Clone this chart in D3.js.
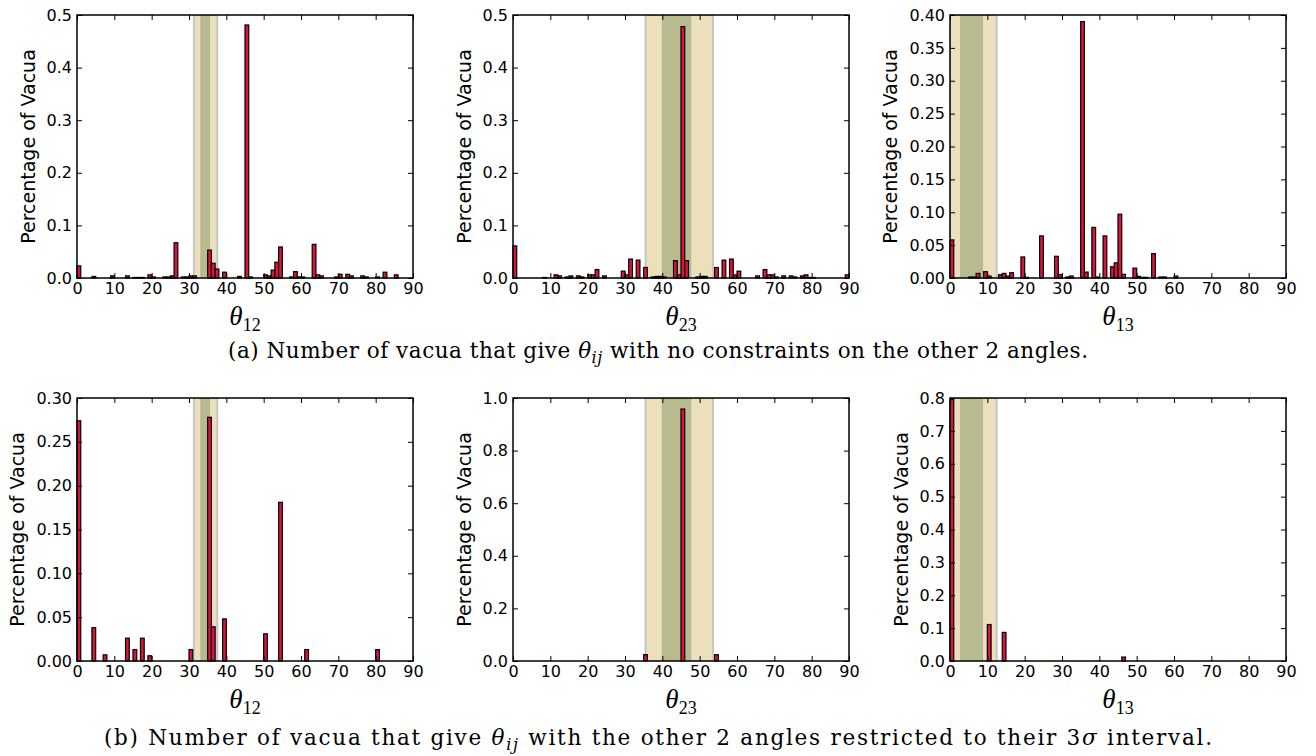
<!DOCTYPE html>
<html>
<head>
<meta charset="utf-8">
<script src="https://cdn.jsdelivr.net/npm/d3@7"></script>
<style>
  body { margin: 0; background: #fff; }
</style>
</head>
<body>
<svg id="chart" width="1316" height="756"></svg>
<script>
// x axis (angle, degrees) ticks shared by all six panels
const xTicks = [0, 10, 20, 30, 40, 50, 60, 70, 80, 90]

// (a) no constraints on the other two angles
const thetaA12 = [0, 4, 9, 13, 15, 16, 17, 19, 20, 23, 24, 25, 26, 28, 29, 30, 31, 35, 36, 37, 39, 43, 45, 46, 50, 51, 52, 53, 54, 57, 58, 59, 60, 63, 64, 65, 69, 70, 72, 73, 76, 77, 80, 82, 85]
const fracA12 = [0.023, 0.003, 0.004, 0.004, 0.001, 0.001, 0.001, 0.006, 0.002, 0.002, 0.002, 0.004, 0.067, 0.002, 0.002, 0.004, 0.004, 0.053, 0.028, 0.017, 0.011, 0.003, 0.481, 0.002, 0.006, 0.004, 0.015, 0.030, 0.059, 0.002, 0.012, 0.002, 0.002, 0.064, 0.006, 0.004, 0.002, 0.007, 0.007, 0.004, 0.004, 0.002, 0.002, 0.011, 0.006]
const yTicksA12 = [0, 0.1, 0.2, 0.3, 0.4, 0.5]

const thetaA23 = [0, 8, 11, 12, 14, 15, 17, 18, 20, 21, 22, 24, 29, 30, 31, 33, 35, 37, 38, 39, 40, 43, 44, 45, 46, 49, 50, 51, 54, 56, 58, 59, 60, 65, 67, 68, 69, 70, 72, 74, 75, 77, 78, 79, 80, 89]
const fracA23 = [0.061, 0.001, 0.006, 0.004, 0.002, 0.004, 0.004, 0.002, 0.006, 0.006, 0.016, 0.004, 0.013, 0.006, 0.036, 0.034, 0.020, 0.002, 0.003, 0.003, 0.002, 0.033, 0.006, 0.478, 0.033, 0.002, 0.003, 0.003, 0.020, 0.034, 0.036, 0.006, 0.013, 0.004, 0.016, 0.006, 0.006, 0.002, 0.004, 0.004, 0.002, 0.004, 0.006, 0.001, 0.001, 0.006]
const yTicksA23 = [0, 0.1, 0.2, 0.3, 0.4, 0.5]

const thetaA13 = [0, 5, 6, 7, 9, 10, 13, 14, 15, 16, 19, 20, 24, 28, 29, 31, 32, 35, 36, 38, 39, 41, 43, 44, 45, 46, 49, 50, 51, 52, 54, 56, 57, 60]
const fracA13 = [0.058, 0.0015, 0.0015, 0.007, 0.0096, 0.003, 0.005, 0.007, 0.003, 0.008, 0.032, 0.001, 0.064, 0.033, 0.005, 0.0015, 0.003, 0.390, 0.009, 0.077, 0.0015, 0.064, 0.017, 0.023, 0.097, 0.0056, 0.015, 0.0025, 0.001, 0.001, 0.037, 0.0015, 0.0015, 0.003]
const yTicksA13 = [0, 0.05, 0.10, 0.15, 0.20, 0.25, 0.30, 0.35, 0.40]

// (b) other two angles restricted to their 3 sigma interval
const thetaB12 = [0, 4, 7, 13, 15, 17, 19, 30, 35, 36, 39, 50, 54, 61, 80]
const fracB12 = [0.274, 0.038, 0.007, 0.026, 0.013, 0.026, 0.006, 0.013, 0.278, 0.039, 0.048, 0.031, 0.181, 0.013, 0.013]
const yTicksB12 = [0, 0.05, 0.10, 0.15, 0.20, 0.25, 0.30]

const thetaB23 = [35, 45, 54]
const fracB23 = [0.024, 0.958, 0.024]
const yTicksB23 = [0, 0.2, 0.4, 0.6, 0.8, 1.0]

const thetaB13 = [0, 10, 14, 46]
const fracB13 = [0.795, 0.111, 0.087, 0.012]
const yTicksB13 = [0, 0.1, 0.2, 0.3, 0.4, 0.5, 0.6, 0.7, 0.8]

// experimental ranges: outer = 3 sigma, inner = 1 sigma
const band12 = [31.3, 37.6]
const inner12 = [33.2, 35.5]
const band23 = [35.5, 53.6]
const inner23 = [40.0, 47.6]
const band13 = [0, 12.5]
const inner13 = [2.9, 8.7]

const captionA = ['(a) Number of vacua that give ', 'θ', 'ij', ' with no constraints on the other 2 angles.']
const captionB = ['(b) Number of vacua that give ', 'θ', 'ij', ' with the other 2 angles restricted to their 3', 'σ', ' interval.']

const cols = [77, 513, 950]
const rows = [15, 398]
const plotW = 336
const plotH = 263
const binW = 1

const panels = [
  {row: 0, col: 0, theta: thetaA12, frac: fracA12, yTicks: yTicksA12, fmt: '.1f', band: band12, inner: inner12, sub: '12'},
  {row: 0, col: 1, theta: thetaA23, frac: fracA23, yTicks: yTicksA23, fmt: '.1f', band: band23, inner: inner23, sub: '23'},
  {row: 0, col: 2, theta: thetaA13, frac: fracA13, yTicks: yTicksA13, fmt: '.2f', band: band13, inner: inner13, sub: '13'},
  {row: 1, col: 0, theta: thetaB12, frac: fracB12, yTicks: yTicksB12, fmt: '.2f', band: band12, inner: inner12, sub: '12'},
  {row: 1, col: 1, theta: thetaB23, frac: fracB23, yTicks: yTicksB23, fmt: '.1f', band: band23, inner: inner23, sub: '23'},
  {row: 1, col: 2, theta: thetaB13, frac: fracB13, yTicks: yTicksB13, fmt: '.1f', band: band13, inner: inner13, sub: '13'}
]

const svg = d3.select('#chart')
const sansFont = '"DejaVu Sans", sans-serif'
const serifFont = '"Liberation Serif", "Times New Roman", serif'
const captionFont = '"DejaVu Serif", "Liberation Serif", serif'

panels.forEach((p, i) => {
  const x = d3.scaleLinear().domain([0, 90]).range([0, plotW])
  const y = d3.scaleLinear().domain([0, p.yTicks[p.yTicks.length - 1]]).range([plotH, 0])
  const g = svg.append('g')
    .attr('transform', `translate(${cols[p.col]},${rows[p.row]})`)

  g.append('clipPath')
    .attr('id', 'clip' + i)
    .append('rect')
    .attr('width', plotW)
    .attr('height', plotH)

  const bands = g.append('g').attr('clip-path', `url(#clip${i})`)
  bands.append('rect')
    .attr('x', x(p.band[0]))
    .attr('width', x(p.band[1]) - x(p.band[0]))
    .attr('y', 0)
    .attr('height', plotH)
    .style('fill', '#ebe0bb')
    .style('stroke', '#bcc3c9')
    .style('stroke-width', 1.8)
  bands.append('rect')
    .attr('x', x(p.inner[0]))
    .attr('width', x(p.inner[1]) - x(p.inner[0]))
    .attr('y', 0)
    .attr('height', plotH)
    .style('fill', '#b7bb8e')
    .style('stroke', '#adb29c')
    .style('stroke-width', 1)

  const data = p.theta.map((t, k) => ({t: t, v: p.frac[k]}))
  g.append('g')
    .selectAll('rect')
    .data(data)
    .enter()
    .append('rect')
    .attr('x', d => x(d.t))
    .attr('width', d => x(d.t + binW) - x(d.t))
    .attr('y', d => y(d.v))
    .attr('height', d => plotH - y(d.v))
    .style('fill', '#dc143c')
    .style('stroke', '#000')
    .style('stroke-width', 1.2)

  // inward ticks on all four sides, labels only bottom and left
  g.append('g')
    .attr('transform', `translate(0,${plotH})`)
    .call(d3.axisBottom(x).tickValues(xTicks).tickSizeInner(-5).tickSizeOuter(0).tickPadding(5))
  g.append('g')
    .call(d3.axisTop(x).tickValues(xTicks).tickSizeInner(-5).tickSizeOuter(0).tickFormat(''))
  const left = g.append('g')
    .call(d3.axisLeft(y).tickValues(p.yTicks).tickSizeInner(-5).tickSizeOuter(0).tickPadding(5).tickFormat(d3.format(p.fmt)))
  g.append('g')
    .attr('transform', `translate(${plotW},0)`)
    .call(d3.axisRight(y).tickValues(p.yTicks).tickSizeInner(-5).tickSizeOuter(0).tickFormat(''))

  g.selectAll('.domain').remove()
  g.selectAll('.tick line').style('stroke', '#000').style('stroke-width', 1)
  g.selectAll('.tick text')
    .style('font-family', sansFont)
    .style('font-size', '16px')
    .style('fill', '#000')

  g.append('rect')
    .attr('width', plotW)
    .attr('height', plotH)
    .style('fill', 'none')
    .style('stroke', '#000')
    .style('stroke-width', 1.5)

  let maxW = 0
  left.selectAll('.tick text').each(function () {
    maxW = Math.max(maxW, this.getBBox().width)
  })
  g.append('text')
    .attr('transform', `translate(${-5 - maxW - 19},${plotH / 2})rotate(-90)`)
    .attr('text-anchor', 'middle')
    .attr('dominant-baseline', 'central')
    .style('font-family', sansFont)
    .style('font-size', '19px')
    .text('Percentage of Vacua')

  const xl = g.append('text')
    .attr('x', plotW / 2)
    .attr('y', plotH + 47)
    .attr('text-anchor', 'middle')
    .style('font-family', serifFont)
  xl.append('tspan')
    .style('font-style', 'italic')
    .style('font-size', '27px')
    .text('θ')
  xl.append('tspan')
    .attr('dy', 6)
    .style('font-size', '18px')
    .text(p.sub)
})

function caption (parts, yPos, span) {
  const t = svg.append('text')
    .attr('x', 658)
    .attr('y', yPos)
    .attr('text-anchor', 'middle')
    .attr('textLength', span)
    .attr('lengthAdjust', 'spacing')
    .style('font-family', captionFont)
    .style('font-size', '21.5px')
  t.append('tspan').text(parts[0])
  t.append('tspan').style('font-style', 'italic').text(parts[1])
  t.append('tspan').attr('dy', 5).style('font-style', 'italic').style('font-size', '16px').text(parts[2])
  t.append('tspan').attr('dy', -5).text(parts[3])
  if (parts.length > 4) {
    t.append('tspan').style('font-style', 'italic').text(parts[4])
    t.append('tspan').text(parts[5])
  }
  return t
}

caption(captionA, 358, 860)
caption(captionB, 745, 1108)
</script>
</body>
</html>
